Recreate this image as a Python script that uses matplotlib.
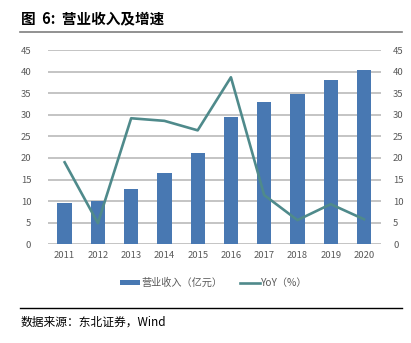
import matplotlib
matplotlib.use("Agg")
import matplotlib.pyplot as plt
from matplotlib.lines import Line2D
from matplotlib.patches import Patch

plt.rcParams['font.family'] = ['Noto Sans CJK SC', 'DejaVu Sans']

years = ['2011', '2012', '2013', '2014', '2015', '2016', '2017', '2018', '2019', '2020']
revenue = [9.5, 10.0, 12.9, 16.6, 21.2, 29.4, 32.9, 34.8, 38.1, 40.4]
yoy = [19.0, 4.9, 29.2, 28.6, 26.4, 38.7, 11.4, 5.6, 9.3, 5.8]
yticks = [0, 5, 10, 15, 20, 25, 30, 35, 40, 45]

bar_color = '#4878B2'
line_color = '#4F8A8B'
tick_color = '#595959'
grid_color = '#BFBFBF'

fig = plt.figure(figsize=(4.11, 3.43), dpi=100)
ax = fig.add_axes([0.1168, 0.2878, 0.926 - 0.1168, 0.854 - 0.2878])
x = list(range(len(years)))
ax.bar(x, revenue, width=0.43, color=bar_color, zorder=3)
ax.set_xlim(-0.5, len(years) - 0.5)
ax.set_ylim(0, 45)
ax.set_yticks(yticks)
ax.set_xticks(x)
ax.set_xticklabels(years)
ax.yaxis.grid(True, color=grid_color, linewidth=1.3, zorder=0)
ax.set_axisbelow(True)
for s in ax.spines.values():
    s.set_visible(False)
ax.tick_params(axis='both', length=0, labelsize=6.8, colors=tick_color, pad=4)
ax.tick_params(axis='y', pad=12)
ax.tick_params(axis='x', pad=5)

ax2 = ax.twinx()
ax2.plot(x, yoy, color=line_color, linewidth=1.9, zorder=4)
ax2.set_ylim(0, 45)
ax2.set_yticks(yticks)
for s in ax2.spines.values():
    s.set_visible(False)
ax2.tick_params(axis='y', length=0, labelsize=6.8, colors=tick_color, pad=9)

handles = [Patch(facecolor=bar_color, edgecolor='none'),
           Line2D([0], [0], color=line_color, linewidth=1.9)]
fig.legend(handles, ['营业收入（亿元）', 'YoY（%）'], loc='center',
           bbox_to_anchor=(0.52, 0.175), ncol=2, frameon=False,
           fontsize=7.3, labelcolor=tick_color, handlelength=2.0,
           handleheight=0.45, handletextpad=0.1, columnspacing=1.7)

fig.text(0.05, 0.948, '图  6:  营业收入及增速', fontsize=10.5, fontweight='bold',
         family=['Noto Sans CJK SC', 'DejaVu Sans'], va='center', ha='left')
fig.add_artist(Line2D([0.048, 0.978], [0.907, 0.907], color='#7F7F7F', linewidth=1.2))
fig.add_artist(Line2D([0.048, 0.978], [0.102, 0.102], color='#000000', linewidth=1.0))
fig.text(0.05, 0.06, '数据来源：东北证券，Wind', fontsize=8.5,
         family=['Noto Sans CJK SC', 'DejaVu Sans'], va='center', ha='left')

fig.savefig('out.png', dpi=100)
